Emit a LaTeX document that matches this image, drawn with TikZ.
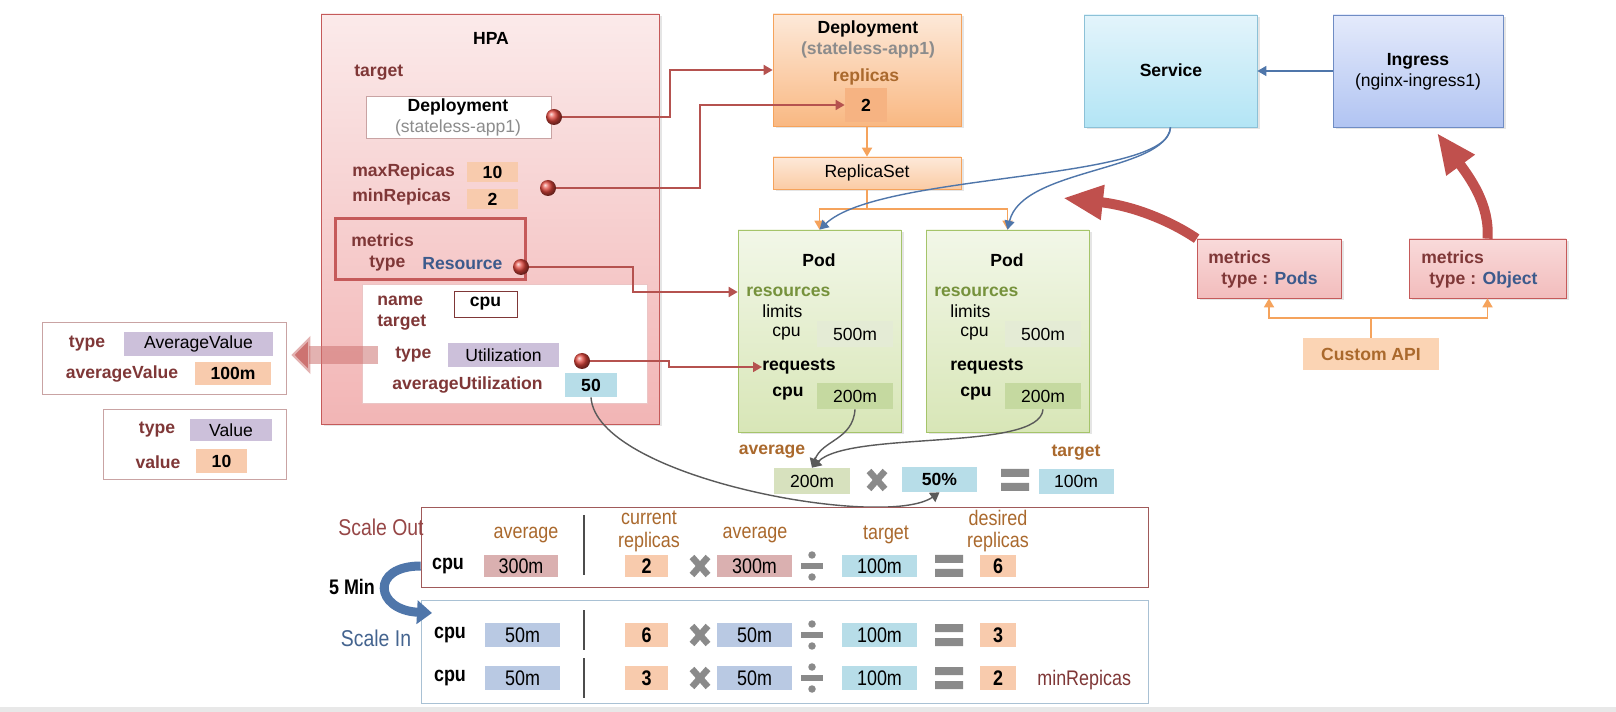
\documentclass[tikz,border=0pt]{standalone}
\usepackage{fontspec}
\setmainfont{Liberation Sans}
\newfontfamily\narrowfont{Liberation Sans}[FakeStretch=0.85]
\usepackage{tikz}
\usetikzlibrary{arrows,arrows.meta}
\usetikzlibrary{shadows}
\usetikzlibrary{positioning,fit}

\definecolor{HpaTop}{RGB}{251,234,234}
\definecolor{HpaBot}{RGB}{242,181,181}
\definecolor{HpaLine}{RGB}{197,90,90}
\definecolor{HpaText}{RGB}{127,55,55}
\definecolor{LineRed}{RGB}{181,82,79}
\definecolor{BallRed}{RGB}{225,70,60}
\definecolor{TypeBlue}{RGB}{60,90,140}
\definecolor{NoteGray}{RGB}{140,140,140}
\definecolor{ValOrange}{RGB}{248,203,173}
\definecolor{ValPurple}{RGB}{204,192,218}
\definecolor{ValBlue}{RGB}{183,221,232}
\definecolor{ValPink}{RGB}{218,176,176}
\definecolor{ValLav}{RGB}{185,201,227}
\definecolor{RepOrange}{RGB}{246,179,130}
\definecolor{DepTop}{RGB}{253,233,217}
\definecolor{DepBot}{RGB}{249,184,130}
\definecolor{DepLine}{RGB}{245,163,92}
\definecolor{Brown}{RGB}{170,105,45}
\definecolor{PodTop}{RGB}{242,247,232}
\definecolor{PodBot}{RGB}{216,230,183}
\definecolor{PodLine}{RGB}{165,196,106}
\definecolor{Olive}{RGB}{118,146,60}
\definecolor{LimGreen}{RGB}{228,235,213}
\definecolor{ReqGreen}{RGB}{197,217,160}
\definecolor{AvgGreen}{RGB}{215,225,190}
\definecolor{SvcTop}{RGB}{227,244,251}
\definecolor{SvcBot}{RGB}{179,229,245}
\definecolor{SvcLine}{RGB}{140,193,215}
\definecolor{IngTop}{RGB}{228,234,251}
\definecolor{IngBot}{RGB}{177,196,242}
\definecolor{IngLine}{RGB}{111,140,196}
\definecolor{LinkBlue}{RGB}{79,118,170}
\definecolor{MetTop}{RGB}{249,218,218}
\definecolor{MetBot}{RGB}{242,188,188}
\definecolor{ApiOrange}{RGB}{251,212,180}
\definecolor{OpGray}{RGB}{138,138,138}
\definecolor{CurveGray}{RGB}{90,90,90}
\definecolor{OutRed}{RGB}{150,70,70}
\definecolor{OutLine}{RGB}{160,90,90}
\definecolor{InBlue}{RGB}{68,100,143}
\definecolor{InLine}{RGB}{169,193,212}
\definecolor{SideLine}{RGB}{201,163,163}
\definecolor{BigRed}{RGB}{192,80,77}
\definecolor{StripGray}{RGB}{232,232,232}

\tikzset{
	sz/.style 2 args={minimum width=#1*0.02cm, minimum height=#2*0.02cm},
	softshadow/.style={drop shadow={shadow xshift=0.05cm, shadow yshift=-0.05cm, opacity=0.2}},
	hpabox/.style={draw=HpaLine, top color=HpaTop, bottom color=HpaBot, softshadow},
	depbox/.style={draw=DepLine, top color=DepTop, bottom color=DepBot, softshadow},
	podbox/.style={draw=PodLine, top color=PodTop, bottom color=PodBot, softshadow},
	svcbox/.style={draw=SvcLine, top color=SvcTop, bottom color=SvcBot, softshadow},
	ingbox/.style={draw=IngLine, top color=IngTop, bottom color=IngBot, softshadow},
	metbox/.style={draw=HpaLine, top color=MetTop, bottom color=MetBot, softshadow},
	sidebox/.style={draw=SideLine, fill=white},
	hpalbl/.style={anchor=west, text=HpaText, font=\bfseries},
	vorange/.style={fill=ValOrange, font=\bfseries},
	vpurple/.style={fill=ValPurple},
	vblue/.style={fill=ValBlue},
	nlbl/.style={font=\narrowfont\fontsize{12}{13}\selectfont},
	nbold/.style={font=\narrowfont\bfseries\fontsize{12}{13}\selectfont},
	brownlbl/.style={nlbl, text=Brown, align=center},
	ballnode/.style={circle, minimum size=0.32cm, shading=ball, ball color=BallRed},
	redarrow/.style={draw=LineRed, line width=1pt, -{Triangle[length=1.8mm,width=2mm]}},
	orline/.style={draw=DepLine, line width=1pt},
	orarrow/.style={orline, -{Triangle[length=1.8mm,width=2mm]}},
	bluearrow/.style={draw=LinkBlue, line width=0.8pt, -{Triangle[length=1.8mm,width=2mm]}},
	grayarrow/.style={draw=CurveGray, line width=0.8pt, -{Triangle[length=1.8mm,width=2.2mm]}},
	bigred/.style={draw=BigRed, line width=0.2cm, -{Triangle[length=0.8cm,width=0.65cm]}},
	palearrow/.style={draw=BigRed!80, draw opacity=0.55, line width=0.36cm, -{Triangle[length=0.38cm,width=0.74cm]}},
	bluebig/.style={draw=LinkBlue, line width=0.18cm, -{Triangle[length=0.3cm,width=0.46cm]}},
	sepline/.style={draw=black!70, line width=0.8pt},
	opcross/.pic={\draw[OpGray, line width=0.13cm] (-8,-9) -- (8,9) (-8,9) -- (8,-9);},
	opequal/.pic={\fill[OpGray] (-14,-11) rectangle (14,-3) (-14,3) rectangle (14,11);},
	opdivide/.pic={\fill[OpGray] (-11,-3) rectangle (11,3); \fill[OpGray] (0,-11) circle (0.075cm) (0,11) circle (0.075cm);},
}

\begin{document}
\begin{tikzpicture}[x=0.02cm, y=-0.02cm, every node/.append style={inner sep=0pt}]
	\useasboundingbox (0,0) rectangle (1616,712);
	\fill[white] (0,0) rectangle (1616,712);
	\fill[StripGray] (0,707) rectangle (1616,712);

	% HPA
	\node[hpabox, fit={(321,14) (659,424)}] (hpa) {};
	\node[font=\bfseries] (hpat) at (491,38) {HPA};
	\node[hpalbl] (tgtl) at (354,73) {target};
	\node[draw=SideLine, fill=white, fit={(366,96) (551,138)}] (hdep) {};
	\node[font=\bfseries] (hdepn) at (458,107) {Deployment};
	\node[text=NoteGray] (hdeps) at (458,128) {(stateless-app1)};
	\node[ballnode] (b1) at (554,117) {};
	\node[hpalbl] (maxl) at (352,172) {maxRepicas};
	\node[vorange, sz={51}{20}] (maxv) at (492.5,172) {10};
	\node[hpalbl] (minl) at (352,197) {minRepicas};
	\node[vorange, sz={51}{20}] (minv) at (492.5,199) {2};
	\node[ballnode] (b2) at (548,188) {};
	\node[draw=HpaLine, line width=0.06cm, fit={(335,219) (525,280)}] (metr) {};
	\node[hpalbl] (metl) at (351,240) {metrics};
	\node[hpalbl] (typel) at (369,264) {type};
	\node[anchor=west, font=\bfseries, text=TypeBlue] (typev) at (422,264) {Resource};
	\node[ballnode] (b3) at (521,267) {};
	\node[draw=HpaLine!35, fill=white, fit={(362,284) (647,403)}] (spec) {};
	\node[hpalbl] (namel) at (377,301) {name};
	\node[draw=HpaText, fill=white, font=\bfseries, sz={63}{26}] (cpuv) at (485.5,304) {cpu};
	\node[hpalbl] (stgtl) at (377,323) {target};
	\node[hpalbl] (stypel) at (395,355) {type};
	\node[vpurple, sz={111}{24}] (utl) at (503.5,355) {Utilization};
	\node[ballnode] (b4) at (582,361) {};
	\node[hpalbl] (avul) at (392,385) {averageUtilization};
	\node[vblue, font=\bfseries, sz={52}{24}] (u50) at (591,385) {50};

	% other target types
	\node[sidebox, fit={(42,322) (286,394)}] (avbox) {};
	\node[hpalbl, anchor=center] (avtl) at (87,344) {type};
	\node[vpurple, sz={149}{24}] (avtv) at (198.5,344) {AverageValue};
	\node[hpalbl, anchor=center] (avvl) at (122,374) {averageValue};
	\node[vorange, sz={76}{23}] (avvv) at (233,373.5) {100m};
	\node[sidebox, fit={(103,409) (286,479)}] (vbox) {};
	\node[hpalbl, anchor=center] (vtl) at (157,430) {type};
	\node[vpurple, sz={82}{22}] (vtv) at (231,430) {Value};
	\node[hpalbl, anchor=center] (vvl) at (158,462) {value};
	\node[vorange, sz={51}{24}] (vvv) at (221.5,461) {10};
	\coordinate (pas) at (378,355);
	\draw[palearrow, shorten >=0.1cm] (pas) -- (pas -| avbox.east);

	% Deployment and ReplicaSet
	\node[depbox, fit={(773,14) (961,126)}] (dep) {};
	\node[font=\bfseries] (depn) at (868,29) {Deployment};
	\node[font=\bfseries, text=NoteGray] (deps) at (868,50) {(stateless-app1)};
	\node[font=\bfseries, text=Brown] (repl) at (866,77) {replicas};
	\node[fill=RepOrange, font=\bfseries, sz={42}{34}] (repv) at (866,105) {2};
	\node[depbox, sz={188}{32}, top color=DepTop, bottom color=DepBot!60!DepTop] (rs) at (867,173) {ReplicaSet};
	\draw[redarrow] (b1.east) -- (670,117) |- (dep.west);
	\draw[redarrow] (b2.east) -- (700,188) |- (repv.west);
	\draw[orarrow] (dep.south) -- (rs.north);

	% Pods
	\node[podbox, fit={(738,230) (901,432)}] (pod1) {};
	\node[font=\bfseries] (pod1n) at (819,260) {Pod};
	\node[anchor=west, font=\bfseries, text=Olive] (res1) at (746,292) {resources};
	\node[anchor=west] (lim1) at (762,311) {limits};
	\node[anchor=west] (lcpu1) at (772,334) {cpu};
	\node[fill=LimGreen, sz={76}{26}] (lv1) at (855,334) {500m};
	\node[anchor=west, font=\bfseries] (req1) at (762,367) {requests};
	\node[anchor=west, font=\bfseries] (rcpu1) at (772,394) {cpu};
	\node[fill=ReqGreen, sz={76}{26}] (rv1) at (855,396) {200m};
	\node[podbox, fit={(926,230) (1089,432)}] (pod2) {};
	\node[font=\bfseries] (pod2n) at (1007,260) {Pod};
	\node[anchor=west, font=\bfseries, text=Olive] (res2) at (934,292) {resources};
	\node[anchor=west] (lim2) at (950,311) {limits};
	\node[anchor=west] (lcpu2) at (960,334) {cpu};
	\node[fill=LimGreen, sz={76}{26}] (lv2) at (1043,334) {500m};
	\node[anchor=west, font=\bfseries] (req2) at (950,367) {requests};
	\node[anchor=west, font=\bfseries] (rcpu2) at (960,394) {cpu};
	\node[fill=ReqGreen, sz={76}{26}] (rv2) at (1043,396) {200m};
	\coordinate (rsj) at (867,209);
	\draw[orline] (rs.south) -- (rsj);
	\draw[orarrow] (rsj) -| (pod1.north);
	\draw[orarrow] (rsj) -| (pod2.north);
	\draw[redarrow] (b3.east) -- (633,267) |- (res1.west -| pod1.west);
	\draw[redarrow] (b4.east) -- (669,361) |- (req1.west);

	% average x target
	\node[font=\bfseries, text=Brown] (avgl) at (772,452) {average};
	\node[fill=AvgGreen, sz={76}{26}] (avgv) at (812,481) {200m};
	\pic at (877,480) {opcross};
	\node[vblue, font=\bfseries, sz={75}{25}] (pct) at (939.5,479.5) {50\%};
	\pic at (1015,480) {opequal};
	\node[font=\bfseries, text=Brown] (tgtr) at (1076,453) {target};
	\node[vblue, sz={75}{25}] (tgtv) at (1076,481.5) {100m};
	\draw[grayarrow] (rv1.south) .. controls (853,440) and (822,440) .. (avgv.north);
	\draw[grayarrow] (rv2.south) .. controls (1040,452) and (850,430) .. (avgv.north);
	\draw[grayarrow] (u50.south) .. controls (596,478) and (885,530) .. (pct.south);

	% Service, Ingress, custom metrics
	\node[svcbox, fit={(1084,15) (1257,127)}] (svc) {};
	\node[font=\bfseries] (svcn) at (1171,70) {Service};
	\node[ingbox, fit={(1333,15) (1503,127)}] (ing) {};
	\node[font=\bfseries] (ingn) at (1418,61) {Ingress};
	\node (ings) at (1418,82) {(nginx-ingress1)};
	\draw[bluearrow] (ing.west) -- (svc.east);
	\draw[bluearrow] (svc.south) .. controls (1170,182) and (880,172) .. (pod1.north);
	\draw[bluearrow] (svc.south) .. controls (1165,172) and (1022,168) .. (pod2.north);
	\node[metbox, fit={(1197,239) (1341,298)}] (mpods) {};
	\node[hpalbl] (mpl) at (1208,257) {metrics};
	\node[hpalbl] (mpt) at (1221,280) {type : \textcolor{TypeBlue}{Pods}};
	\node[metbox, fit={(1409,239) (1566,298)}] (mobj) {};
	\node[hpalbl] (mol) at (1421,257) {metrics};
	\node[hpalbl] (mot) at (1429,280) {type : \textcolor{TypeBlue}{Object}};
	\node[fill=ApiOrange, font=\bfseries, text=Brown, sz={136}{32}] (api) at (1371,354) {Custom API};
	\coordinate (apij) at (1371,318);
	\draw[orline] (api.north) -- (apij);
	\draw[orarrow] (apij) -| (mpods.south);
	\draw[orarrow] (apij) -| (mobj.south);
	\coordinate (rt1) at (1063,198);
	\coordinate (rt2) at (1437,133);
	\draw[bigred] (mpods.north west) .. controls (1172,222) and (1135,206) .. (rt1);
	\draw[bigred] (mobj.north) .. controls (1490,205) and (1470,178) .. (rt2);

	% Scale Out
	\node[draw=OutLine, fit={(421,507) (1148,587)}] (sout) {};
	\node[font=\narrowfont\fontsize{13}{14}\selectfont, text=OutRed] (soutl) at (381,527) {Scale Out};
	\node[brownlbl] (soavl) at (526,535) {average};
	\node[nbold] (socpu) at (448,566) {cpu};
	\node[nlbl, fill=ValPink, sz={74}{22}] (soav) at (521,566) {300m};
	\draw[sepline] (584,515) -- (584,575);
	\node[brownlbl] (socrl) at (649,531) {current\\replicas};
	\node[nbold, fill=ValOrange, sz={43}{22}] (socr) at (646.5,566) {2};
	\pic at (700,566) {opcross};
	\node[brownlbl] (soav2l) at (755,535) {average};
	\node[nlbl, fill=ValPink, sz={75}{22}] (soav2) at (754.5,566) {300m};
	\pic at (812,566) {opdivide};
	\node[brownlbl] (sotl) at (886,535) {target};
	\node[nlbl, fill=ValBlue, sz={75}{22}] (sot) at (879.5,566) {100m};
	\pic at (949,566) {opequal};
	\node[brownlbl] (sodl) at (998,531) {desired\\replicas};
	\node[nbold, fill=ValOrange, sz={36}{22}] (sod) at (998,566) {6};

	% Scale In
	\node[draw=InLine, fit={(421,600) (1148,703)}] (sin) {};
	\node[font=\narrowfont\fontsize{13}{14}\selectfont, text=InBlue] (sinl) at (376,638) {Scale In};
	\node[nbold] (fivemin) at (352,587) {5 Min};
	\coordinate (sit) at (432,613);
	\draw[bluebig] (sout.west |- socpu) .. controls (370,566) and (375,610) .. (sit);
	\node[nbold] (si1cpu) at (450,635) {cpu};
	\node[nlbl, fill=ValLav, sz={75}{24}] (si1av) at (522.5,635) {50m};
	\draw[sepline] (584,610) -- (584,650);
	\node[nbold, fill=ValOrange, sz={43}{24}] (si1cr) at (646.5,635) {6};
	\pic at (700,635) {opcross};
	\node[nlbl, fill=ValLav, sz={75}{24}] (si1av2) at (754.5,635) {50m};
	\pic at (812,635) {opdivide};
	\node[nlbl, fill=ValBlue, sz={75}{24}] (si1t) at (879.5,635) {100m};
	\pic at (949,635) {opequal};
	\node[nbold, fill=ValOrange, sz={36}{24}] (si1d) at (998,635) {3};
	\node[nbold] (si2cpu) at (450,678) {cpu};
	\node[nlbl, fill=ValLav, sz={75}{24}] (si2av) at (522.5,678) {50m};
	\draw[sepline] (584,658) -- (584,698);
	\node[nbold, fill=ValOrange, sz={43}{24}] (si2cr) at (646.5,678) {3};
	\pic at (700,678) {opcross};
	\node[nlbl, fill=ValLav, sz={75}{24}] (si2av2) at (754.5,678) {50m};
	\pic at (812,678) {opdivide};
	\node[nlbl, fill=ValBlue, sz={75}{24}] (si2t) at (879.5,678) {100m};
	\pic at (949,678) {opequal};
	\node[nbold, fill=ValOrange, sz={36}{24}] (si2d) at (998,678) {2};
	\node[nlbl, anchor=west, text=HpaText] (minr) at (1037,680) {minRepicas};
\end{tikzpicture}
\end{document}
